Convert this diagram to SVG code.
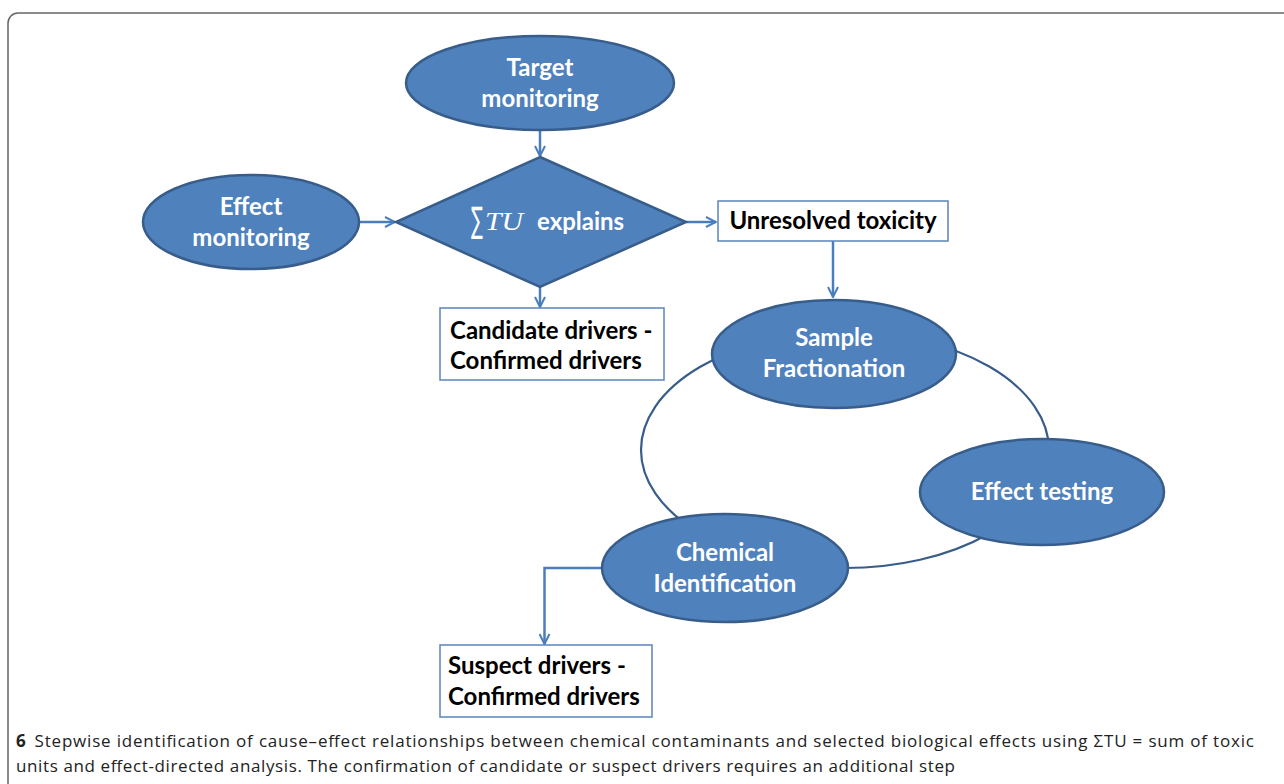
<svg xmlns="http://www.w3.org/2000/svg" width="1284" height="784" viewBox="0 0 1284 784">
<defs>
<style>
.node{fill:#4F81BD;stroke:#385D8A;stroke-width:2.5}
.box{fill:#ffffff;stroke:#5B84BA;stroke-width:1.5}
.wt{font-family:Lato,"Open Sans",sans-serif;font-weight:bold;font-size:24px;fill:#ffffff;text-anchor:middle}
.bt{font-family:Lato,"Open Sans",sans-serif;font-weight:bold;font-size:24px;fill:#000000}
.conn{fill:none;stroke:#4A7EBB;stroke-width:2.5}
.cyc{fill:none;stroke:#385D8A;stroke-width:2.2}
.cap{font-family:"Open Sans",sans-serif;font-size:17px;fill:#222222}
</style>
<marker id="arr" viewBox="0 0 12 12" refX="11" refY="6" markerWidth="12" markerHeight="12" markerUnits="userSpaceOnUse" orient="auto">
<path d="M1,1 L11,6 L1,11" fill="none" stroke="#4A7EBB" stroke-width="2"/>
</marker>
</defs>
<rect x="8" y="13" width="1300" height="800" rx="10" fill="#ffffff" stroke="#666666" stroke-width="1.5"/>
<g id="cycle">
<ellipse class="cyc" cx="845" cy="450" rx="204" ry="118"/>
</g>
<g id="connectors">
<path class="conn" d="M540,130 L540,156" marker-end="url(#arr)"/>
<path class="conn" d="M359,222 L395,222" marker-end="url(#arr)"/>
<path class="conn" d="M686,222 L716,222" marker-end="url(#arr)"/>
<path class="conn" d="M540,287 L540,307" marker-end="url(#arr)"/>
<path class="conn" d="M833,241 L833,297" marker-end="url(#arr)"/>
<path class="conn" d="M602,568 L544.5,568 L544.5,644" marker-end="url(#arr)"/>
</g>
<g id="target-monitoring">
<ellipse class="node" cx="540" cy="83" rx="134" ry="47"/>
<text class="wt" x="540" y="76">Target</text>
<text class="wt" x="540" y="107">monitoring</text>
</g>
<g id="effect-monitoring">
<ellipse class="node" cx="251" cy="222" rx="108" ry="47"/>
<text class="wt" x="251" y="215">Effect</text>
<text class="wt" x="251" y="246">monitoring</text>
</g>
<g id="sum-tu">
<polygon class="node" points="540,157 686,222 540,287 396,222"/>
<text transform="translate(471,232) scale(0.5,1)" x="0" y="0" fill="#ffffff" font-size="35px" font-family="'DejaVu Sans',sans-serif">∑</text>
<text x="485" y="230" fill="#ffffff" font-size="25px" font-family="'Liberation Serif',serif" font-style="italic" textLength="38" lengthAdjust="spacingAndGlyphs">TU</text>
<text x="537" y="230" fill="#ffffff" font-size="24px" font-family="Lato,'Open Sans',sans-serif" font-weight="bold">explains</text>
</g>
<g id="unresolved-toxicity">
<rect class="box" x="718" y="201" width="230" height="40"/>
<text class="bt" x="833" y="229" text-anchor="middle">Unresolved toxicity</text>
</g>
<g id="candidate-drivers">
<rect class="box" x="440" y="308" width="224" height="72"/>
<text class="bt" x="450" y="339">Candidate drivers -</text>
<text class="bt" x="450" y="369">Confirmed drivers</text>
</g>
<g id="sample-fractionation">
<ellipse class="node" cx="834" cy="354" rx="122" ry="54"/>
<text class="wt" x="834" y="346">Sample</text>
<text class="wt" x="834" y="377">Fractionation</text>
</g>
<g id="effect-testing">
<ellipse class="node" cx="1042" cy="492" rx="122" ry="53"/>
<text class="wt" x="1042" y="500">Effect testing</text>
</g>
<g id="chemical-identification">
<ellipse class="node" cx="725" cy="568" rx="123" ry="54"/>
<text class="wt" x="725" y="561">Chemical</text>
<text class="wt" x="725" y="592">Identification</text>
</g>
<g id="suspect-drivers">
<rect class="box" x="440" y="645" width="212" height="72"/>
<text class="bt" x="448" y="674">Suspect drivers -</text>
<text class="bt" x="448" y="705">Confirmed drivers</text>
</g>
<g id="caption">
<text class="cap" x="16" y="747" textLength="1238" lengthAdjust="spacing"><tspan font-weight="bold">6</tspan><tspan dx="8">Stepwise identification of cause–effect relationships between chemical contaminants and selected biological effects using ΣTU = sum of toxic</tspan></text>
<text class="cap" x="16" y="772" textLength="939" lengthAdjust="spacing">units and effect-directed analysis. The confirmation of candidate or suspect drivers requires an additional step</text>
</g>
</svg>
